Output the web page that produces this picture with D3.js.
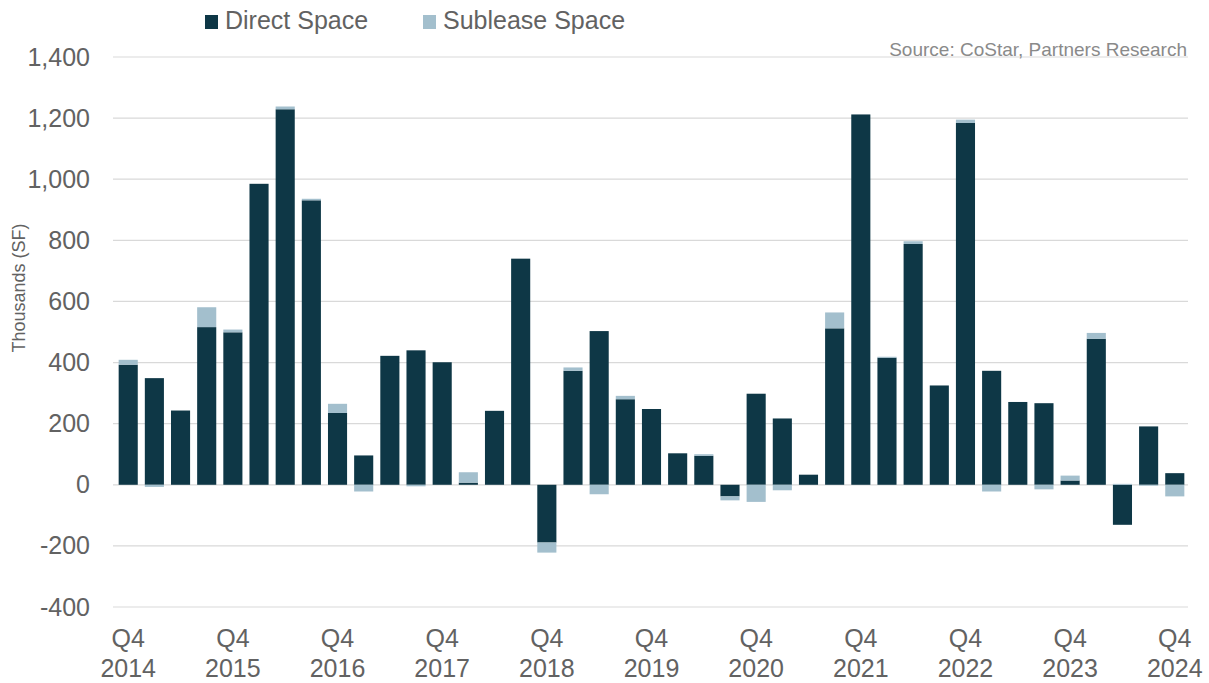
<!DOCTYPE html>
<html>
<head>
<meta charset="utf-8">
<script src="https://cdn.jsdelivr.net/npm/d3@7"></script>
<style>
  body { margin: 0; background: #fff; }
  svg text { font-family: "Liberation Sans", Arial, sans-serif; fill: #626262; }
</style>
</head>
<body>
<svg id="chart" width="1209" height="683"></svg>
<script>
// quarters Q4 2014 .. Q4 2024
var years = [2014, 2015, 2016, 2017, 2018, 2019, 2020, 2021, 2022, 2023, 2024];
var quarters = [];
years.forEach(function (y, i) {
  var qs = i === 0 ? [4] : [1, 2, 3, 4];
  qs.forEach(function (q) { quarters.push("Q" + q + " " + y); });
});

var direct = [393, 349, 243, 516, 499, 985, 1229, 931, 235, 96, 422, 440, 401,
  7, 242, 740, -189, 373, 503, 280, 248, 103, 95, -38, 298, 217, 33,
  512, 1212, 416, 788, 325, 1184, 373, 271, 267, 14, 478, -131, 191, 38];
var sublease = [16, -7, 0, 65, 9, 0, 9, 5, 30, -22, 0, -5, 0,
  34, 0, 0, -33, 11, -31, 11, 0, 0, 5, -13, -56, -18, 0,
  52, 0, 3, 9, 0, 11, -22, 0, -15, 16, 19, 3, -3, -38];

var yTicks = [-400, -200, 0, 200, 400, 600, 800, 1000, 1200, 1400];
var seriesNames = ["Direct Space", "Sublease Space"];
var colors = ["#0e3746", "#a3bfcd"];

var svg = d3.select("#chart");
var margin = { top: 57, right: 21, bottom: 76, left: 115 };
var width = 1209 - margin.left - margin.right;
var height = 683 - margin.top - margin.bottom;

var g = svg.append("g").attr("transform", "translate(" + margin.left + "," + margin.top + ")");

var x = d3.scaleBand().domain(quarters).range([0, width]).paddingInner(0.27).paddingOuter(0.14);
var y = d3.scaleLinear().domain([-400, 1400]).range([height, 0]);

// gridlines
g.selectAll("line.grid")
  .data(yTicks)
  .enter()
  .append("line")
  .attr("class", "grid")
  .attr("x1", -2).attr("x2", width)
  .attr("y1", function (d) { return y(d); })
  .attr("y2", function (d) { return y(d); })
  .attr("stroke", "#d9d9d9")
  .attr("stroke-width", 1.2);

// y axis labels
var yAxis = d3.axisLeft(y).tickValues(yTicks).tickSize(0).tickPadding(25).tickFormat(d3.format(","));
g.append("g").call(yAxis)
  .call(function (s) { s.select(".domain").remove(); })
  .selectAll("text")
  .text(function (d) { return d3.format(",")(d).replace("\u2212", "-"); })
  .style("font-size", "25px");

// stacked bars
var rows = quarters.map(function (q, i) { return { q: q, direct: direct[i], sublease: sublease[i] }; });
var stack = d3.stack().keys(["direct", "sublease"]).offset(d3.stackOffsetDiverging);
var layers = stack(rows);

g.selectAll("g.layer")
  .data(layers)
  .enter()
  .append("g")
  .attr("class", "layer")
  .attr("fill", function (d, i) { return colors[i]; })
  .selectAll("rect")
  .data(function (d) { return d; })
  .enter()
  .append("rect")
  .attr("x", function (d) { return x(d.data.q); })
  .attr("width", x.bandwidth())
  .attr("y", function (d) { return y(Math.max(d[0], d[1])); })
  .attr("height", function (d) { return Math.abs(y(d[0]) - y(d[1])); });

// x labels (every 4th quarter, Q4)
var xLabels = quarters.filter(function (q, i) { return i % 4 === 0; });
var xl = g.selectAll("text.xl")
  .data(xLabels)
  .enter()
  .append("text")
  .attr("class", "xl")
  .attr("text-anchor", "middle")
  .attr("x", function (d) { return x(d) + x.bandwidth() / 2; })
  .attr("y", height + 40)
  .style("font-size", "25px");
xl.append("tspan").attr("x", function (d) { return x(d) + x.bandwidth() / 2; }).text(function (d) { return d.split(" ")[0]; });
xl.append("tspan").attr("x", function (d) { return x(d) + x.bandwidth() / 2; }).attr("dy", 30).text(function (d) { return d.split(" ")[1]; });

// y axis title
svg.append("text")
  .attr("transform", "translate(25,288) rotate(-90)")
  .attr("text-anchor", "middle")
  .style("font-size", "18px")
  .text("Thousands (SF)");

// source
svg.append("text")
  .attr("x", 1187).attr("y", 56)
  .attr("text-anchor", "end")
  .style("font-size", "19px")
  .style("fill", "#8a8a8a")
  .text("Source: CoStar, Partners Research");

// legend
var legendX = [205, 423];
var leg = svg.selectAll("g.legend")
  .data(seriesNames)
  .enter()
  .append("g")
  .attr("class", "legend")
  .attr("transform", function (d, i) { return "translate(" + legendX[i] + ",0)"; });
leg.append("rect").attr("x", 0).attr("y", 15).attr("width", 13).attr("height", 14)
  .attr("fill", function (d, i) { return colors[i]; });
leg.append("text").attr("x", 20).attr("y", 29).style("font-size", "25px").text(function (d) { return d; });
</script>
</body>
</html>
